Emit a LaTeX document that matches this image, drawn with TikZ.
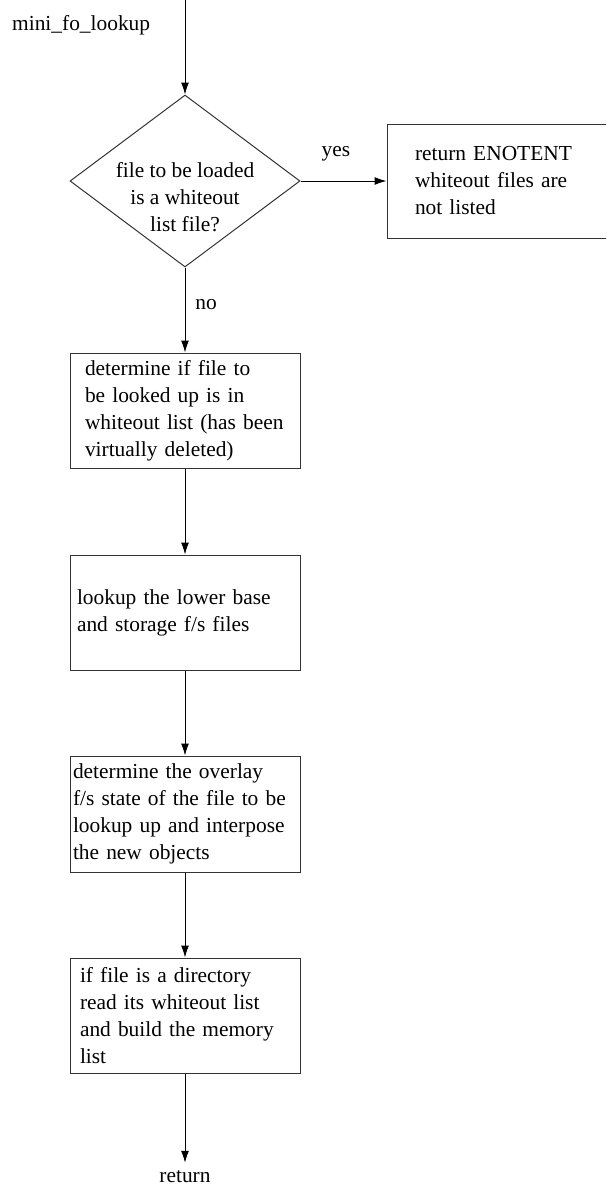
\documentclass[tikz,border=0pt]{standalone}
\usepackage{fontspec}
\setmainfont{Liberation Serif}
\usetikzlibrary{arrows.meta,shapes.geometric}
\begin{document}
\begin{tikzpicture}[x=1pt,y=-1pt,
  every node/.style={font=\fontsize{21.4}{27}\selectfont},
  procbox/.style={draw=black!80, line width=1pt, rectangle, minimum width=230pt, align=left, inner ysep=0pt},
  decision/.style={draw=black!80, line width=1pt, diamond, minimum width=230pt, minimum height=172pt, inner sep=0pt},
  link/.style={line width=1pt, -{Latex[length=12pt,width=8pt]}}]
\clip (0,0) rectangle (606,1187);

% entry label and start point
\node[anchor=west, inner sep=0pt] (title) at (12,25) {mini\_fo\_lookup};
\coordinate (start) at (185,0);

% decision
\node[decision] (dec) at (185,181) {};
\node[align=center, inner sep=0pt] (dectext) at (185,197) {file to be loaded\\is a whiteout\\list file?};

% branch for whiteout list files
\node[procbox, minimum width=223pt, minimum height=114pt, text width=167pt, inner xsep=28pt] (enoent) at (498.5,181)
  {return ENOTENT\\whiteout files are\\not listed};

% main sequence
\node[procbox, minimum height=115pt, text width=200pt, inner xsep=15pt] (b1) at (185,410.5)
  {determine if file to\\be looked up is in\\whiteout list (has been\\virtually deleted)};
\node[procbox, minimum height=115pt, text width=216pt, inner xsep=7pt] (b2) at (185,612.5)
  {lookup the lower base\\and storage f/s files};
\node[procbox, minimum height=116pt, text width=224pt, inner xsep=3pt] (b3) at (185,814)
  {determine the overlay\\f/s state of the file to be\\lookup up and interpose\\the new objects};
\node[procbox, minimum height=115pt, text width=210pt, inner xsep=10pt] (b4) at (185,1015.5)
  {if file is a directory\\read its whiteout list\\and build the memory\\list};
\node[inner sep=0pt, anchor=base] (ret) at (185,1182) {return};

% branch labels
\node[inner sep=0pt] (yes) at (336,154) {yes};
\node[inner sep=0pt] (no) at (206,305) {no};

% connectors
\draw[link] (start) -- (dec.north);
\draw[link] (dec.east) -- (enoent.west);
\draw[link] (dec.south) -- (b1.north);
\draw[link] (b1.south) -- (b2.north);
\draw[link] (b2.south) -- (b3.north);
\draw[link] (b3.south) -- (b4.north);
\draw[link] (b4.south) -- ([yshift=7pt]ret.north);
\end{tikzpicture}
\end{document}
